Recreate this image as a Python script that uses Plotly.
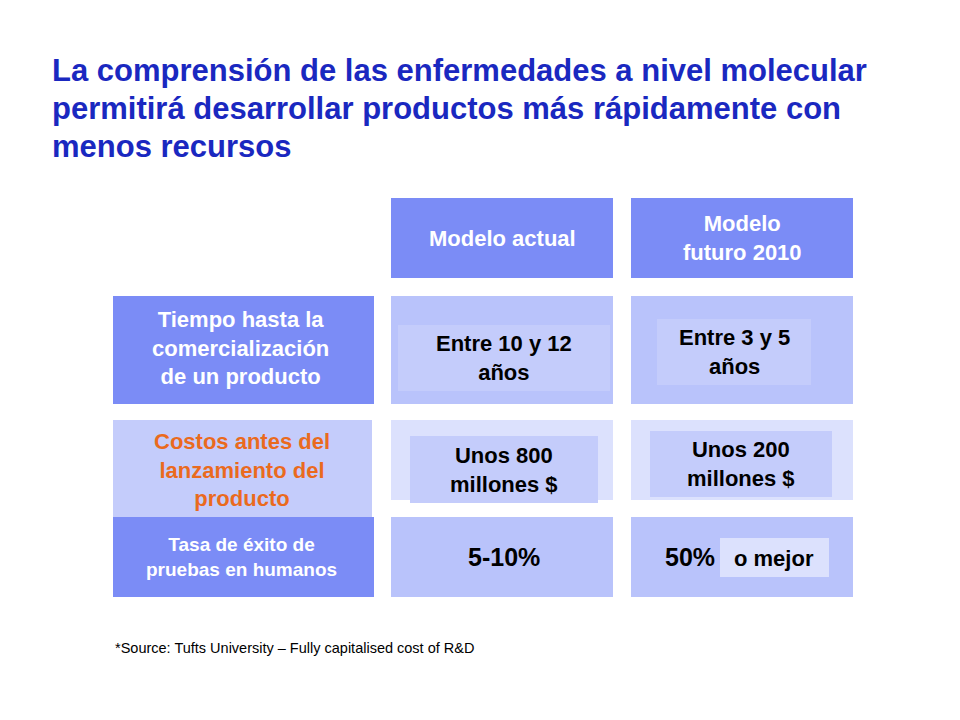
import plotly.graph_objects as go

title_lines = ["La comprensión de las enfermedades a nivel molecular",
               "permitirá desarrollar productos más rápidamente con",
               "menos recursos"]
headers = ["Modelo actual", "Modelo<br>futuro 2010"]
row_labels = ["Tiempo hasta la<br>comercialización<br>de un producto",
              "Costos antes del<br>lanzamiento del<br>producto",
              "Tasa de éxito de<br>pruebas en humanos"]
actual_values = ["Entre 10 y 12<br>años", "Unos 800<br>millones $", "5-10%"]
future_values = ["Entre 3 y 5<br>años", "Unos 200<br>millones $", "50%"]
future_note = "o mejor"
footnote = "*Source: Tufts University – Fully capitalised cost of R&D"

DARK = "#7b8cf6"
MID = "#b9c3fb"
LIGHT = "#dce1fd"
INNER = "#c4ccfb"
TITLE = "#1a28c0"

fig = go.Figure()
shapes, notes = [], []


def box(x0, y0, x1, y1, color):
    shapes.append(dict(type="rect", x0=x0, y0=y0, x1=x1, y1=y1, fillcolor=color,
                       line=dict(width=0), layer="below"))


def text(x, y, s, size=22, color="black", anchor="center"):
    notes.append(dict(x=x, y=y, text="<b>%s</b>" % s, showarrow=False, xanchor=anchor,
                      yanchor="middle", align="center",
                      font=dict(family="Liberation Sans, Arial", size=size, color=color)))


for i, line in enumerate(title_lines):
    notes.append(dict(x=50, y=70 + i * 38, text="<b>%s</b>" % line, showarrow=False,
                      xanchor="left", yanchor="middle",
                      font=dict(family="Liberation Sans, Arial", size=31, color=TITLE)))

cols = [(391, 613), (631, 853)]
for (x0, x1), h in zip(cols, headers):
    box(x0, 198, x1, 278, DARK)
    text((x0 + x1) / 2, 238, h, color="white")

# row 1
box(113, 296, 374, 404, DARK)
text(240, 348, row_labels[0], color="white")
for x0, x1 in cols:
    box(x0, 296, x1, 404, MID)
box(398, 325, 610, 391, INNER)
text(504, 358, actual_values[0])
box(657, 319, 811, 385, INNER)
text(734, 352, future_values[0])

# row 2
box(113, 420, 372, 518, INNER)
text(242, 470, row_labels[1], color="#ea6a1e")
for x0, x1 in cols:
    box(x0, 420, x1, 500, LIGHT)
box(410, 436, 598, 503, INNER)
text(504, 470, actual_values[1])
box(650, 431, 832, 497, INNER)
text(741, 464, future_values[1])

# row 3
box(113, 517, 374, 597, DARK)
text(241, 557, row_labels[2], size=19, color="white")
for x0, x1 in cols:
    box(x0, 517, x1, 597, MID)
text(504, 557, actual_values[2], size=25)
text(690, 557, future_values[2], size=25)
box(720, 538, 829, 577, LIGHT)
text(774, 558, future_note)

notes.append(dict(x=113, y=648, text=footnote, showarrow=False, xanchor="left",
                  yanchor="middle", font=dict(family="Liberation Sans, Arial", size=14.5,
                                              color="black")))

fig.update_layout(width=960, height=720, margin=dict(l=0, r=0, t=0, b=0),
                  plot_bgcolor="white", paper_bgcolor="white",
                  xaxis=dict(range=[8, 968], visible=False, fixedrange=True),
                  yaxis=dict(range=[728, 8], visible=False, fixedrange=True),
                  shapes=shapes, annotations=notes, showlegend=False)
fig.write_html("out.html", config={"displayModeBar": False})
